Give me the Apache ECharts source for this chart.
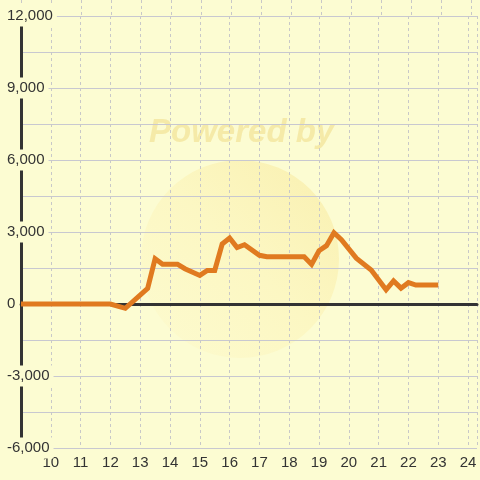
<!DOCTYPE html>
<html>
<head>
<meta charset="utf-8">
<script src="https://cdn.jsdelivr.net/npm/echarts@6/dist/echarts.min.js"></script>
<style>
html,body{margin:0;padding:0;background:#fcfcd2;}
#c{width:480px;height:480px;}
</style>
</head>
<body>
<div id="c"></div>
<script>
// Data (hour of day, value)
const hours  = [9, 12, 12.5, 13.25, 13.5, 13.75, 14.25, 14.5, 15, 15.25, 15.5, 15.75, 16, 16.25, 16.5, 17, 17.25, 18.5, 18.75, 19, 19.25, 19.5, 19.75, 20.25, 20.75, 21.25, 21.5, 21.75, 22, 22.25, 23];
const values = [0, 0, -180, 650, 1890, 1660, 1660, 1470, 1190, 1400, 1400, 2500, 2750, 2350, 2470, 2030, 1970, 1970, 1650, 2220, 2430, 2970, 2680, 1910, 1420, 590, 960, 660, 890, 790, 790];
const xTickLabels = [10, 11, 12, 13, 14, 15, 16, 17, 18, 19, 20, 21, 22, 23, 24];
const yTickLabels = [-6000, -3000, 0, 3000, 6000, 9000, 12000];

const BG = '#fcfcd2';
const chart = echarts.init(document.getElementById('c'), null, {renderer: 'canvas'});
const font = 'Liberation Sans, Arial, sans-serif';
const pts = hours.map((h, i) => [h, values[i]]);

chart.setOption({
  backgroundColor: BG,
  animation: false,
  graphic: [
    {
      type: 'circle', z: -10, silent: true,
      shape: {cx: 240, cy: 259, r: 99},
      style: {
        fill: new echarts.graphic.LinearGradient(0, 1, 1, 0, [
          {offset: 0, color: 'rgba(253,250,205,0.6)'},
          {offset: 0.5, color: 'rgba(252,244,185,0.6)'},
          {offset: 1, color: 'rgba(248,234,160,0.7)'}
        ])
      }
    },
    {
      type: 'text', z: -9, silent: true,
      left: 149, top: 116,
      style: {
        text: 'Powered by',
        font: 'italic bold 33px ' + font,
        fill: 'rgba(240,222,140,0.6)'
      }
    }
  ],
  grid: [
    {left: 21, right: 0, top: 16, bottom: 32, containLabel: false},
    {left: 21, right: 0, top: 0, height: 16, containLabel: false}
  ],
  xAxis: [
    {
      type: 'value', gridIndex: 0, min: 9, max: 24.3, interval: 1,
      axisLine: {show: false, onZero: false},
      axisTick: {show: false},
      axisLabel: {
        color: '#333', fontSize: 15, fontFamily: font, margin: 7,
        showMinLabel: true, showMaxLabel: true,
        formatter: v => (xTickLabels.indexOf(v) >= 0 ? String(v) : '')
      },
      splitLine: {show: true, lineStyle: {color: '#c8c8c8', type: [3, 3], width: 1}}
    },
    {
      type: 'value', gridIndex: 0, min: 9, max: 24.3, interval: 1, position: 'bottom',
      axisLine: {show: true, onZero: true, lineStyle: {color: '#333', width: 3}},
      axisTick: {show: false}, axisLabel: {show: false}, splitLine: {show: false}
    },
    {
      type: 'value', gridIndex: 1, min: 9, max: 24.3, interval: 1,
      axisLine: {show: false}, axisTick: {show: false}, axisLabel: {show: false},
      splitLine: {show: true, lineStyle: {color: '#c8c8c8', type: [3, 3], width: 1}}
    }
  ],
  yAxis: [
    {
      type: 'value', gridIndex: 0, min: -6000, max: 12000, interval: 1500,
      axisLine: {show: true, onZero: false, lineStyle: {color: '#333', width: 3}},
      axisTick: {show: false},
      axisLabel: {show: false},
      splitLine: {show: true, lineStyle: {color: '#c8c8d0', width: 1}}
    },
    {
      type: 'value', gridIndex: 1, min: 0, max: 1,
      show: false, splitLine: {show: false}
    },
    {
      type: 'value', gridIndex: 0, min: -6000, max: 12000, interval: 3000,
      zlevel: 1, z: 20,
      position: 'left',
      axisLine: {show: false, onZero: false},
      axisTick: {show: false},
      splitLine: {show: false},
      axisLabel: {
        color: '#333', fontSize: 15, fontFamily: font,
        align: 'left', margin: 18,
        backgroundColor: BG, padding: [3, 4],
        formatter: v => (yTickLabels.indexOf(v) >= 0 ? v.toLocaleString('en-US') : '')
      }
    }
  ],
  series: [
    {
      type: 'line', xAxisIndex: 0, yAxisIndex: 0,
      data: pts, showSymbol: false, symbol: 'none',
      lineStyle: {color: '#e07a20', width: 5, join: 'miter'},
      z: 5
    }
  ]
});
</script>
</body>
</html>
